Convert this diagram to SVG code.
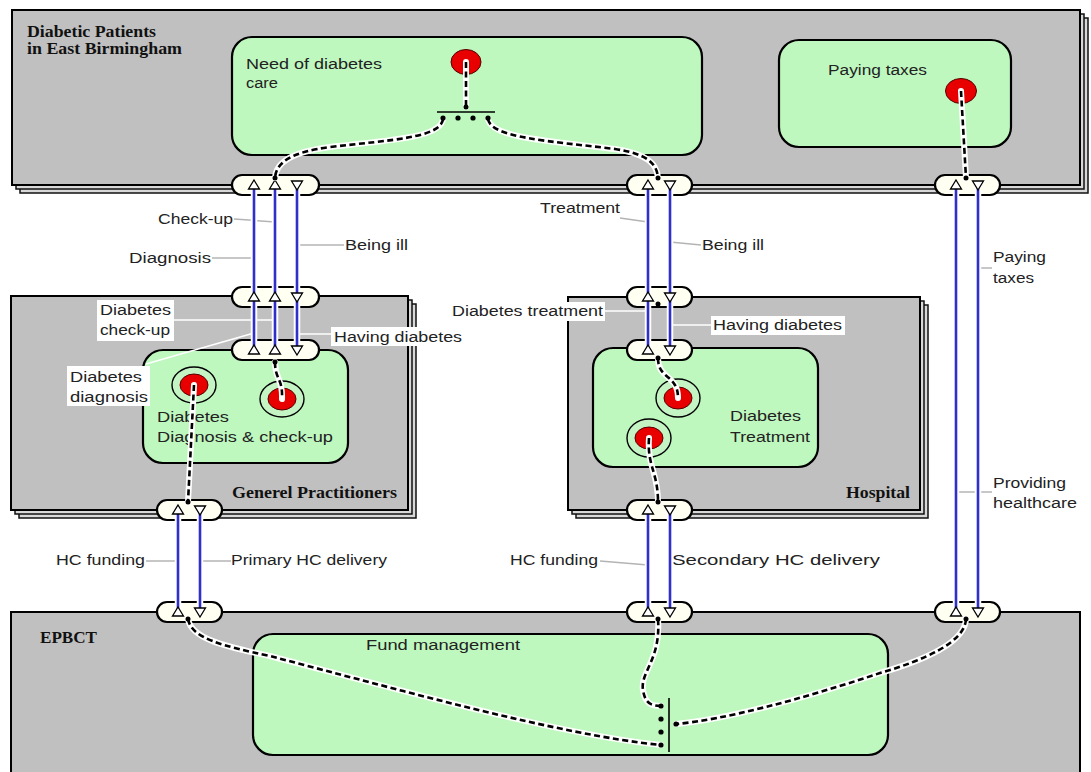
<svg xmlns="http://www.w3.org/2000/svg" xmlns:xlink="http://www.w3.org/1999/xlink" width="1091" height="772" viewBox="0 0 1091 772">
  <style>
    .sheet { fill: #c0c0c0; stroke: #000; stroke-width: 2; }
    .sheet-back { fill: #d8d8d8; stroke: #111; stroke-width: 1.5; }
    .activity { fill: #bff8bf; stroke: #000; stroke-width: 2.2; }
    .port { fill: #fffff2; stroke: #000; stroke-width: 2.2; }
    .title { font-family: "Liberation Serif", "Times New Roman", serif; font-weight: bold; font-size: 16px; fill: #111; }
    .lbl { font-family: "Liberation Sans", Arial, sans-serif; font-size: 14px; fill: #222; }
    .lbl-bg { fill: #ffffff; }
    .lead { stroke: #b4b4b4; stroke-width: 1.5; fill: none; }
    .lead-w { stroke: #ffffff; stroke-width: 1.5; fill: none; }
    .halo { stroke: #ffffff; stroke-width: 6.5; fill: none; }
    .flow { stroke: #3030c8; stroke-width: 2.6; fill: none; }
    .tri { fill: #ffffff; stroke: #000; stroke-width: 1.3; }
    .dash-under { stroke: #ffffff; stroke-width: 6; fill: none; stroke-linecap: round; }
    .dash { stroke: #000; stroke-width: 2.6; fill: none; stroke-dasharray: 6 3.5; }
    .dot { fill: #000; }
    .bar { stroke: #000; stroke-width: 1.6; }
    .ring { fill: #c4f4c4; stroke: #000; stroke-width: 1.4; }
    .red { fill: #e80000; stroke: #500; stroke-width: 1; }
  </style>
  <defs>
    <path id="tri-up" class="tri" d="M0,-5 L5.5,4 L-5.5,4 Z"/>
    <path id="tri-down" class="tri" d="M0,5 L5.5,-4 L-5.5,-4 Z"/>
  </defs>

  <rect width="1091" height="772" fill="#ffffff"/>

  <!-- Organisation: patients -->
  <g id="patients">
    <rect class="sheet-back" x="20" y="18" width="1068" height="175"/>
    <rect class="sheet-back" x="16" y="14" width="1068" height="175"/>
    <rect class="sheet" x="12" y="10" width="1068" height="175"/>
    <text class="title" x="27" y="37" textLength="129" lengthAdjust="spacingAndGlyphs">Diabetic Patients</text>
    <text class="title" x="27" y="54" textLength="155" lengthAdjust="spacingAndGlyphs">in East Birmingham</text>
  </g>

  <!-- Organisation: general practitioners -->
  <g id="gp">
    <rect class="sheet-back" x="19" y="304" width="397" height="214"/>
    <rect class="sheet-back" x="15" y="300" width="397" height="214"/>
    <rect class="sheet" x="11" y="296" width="397" height="214"/>
    <text class="title" x="232" y="498" textLength="165" lengthAdjust="spacingAndGlyphs">Generel Practitioners</text>
  </g>

  <!-- Organisation: hospital -->
  <g id="hospital">
    <rect class="sheet-back" x="576" y="305" width="352" height="213"/>
    <rect class="sheet-back" x="572" y="301" width="352" height="213"/>
    <rect class="sheet" x="568" y="297" width="352" height="213"/>
    <text class="title" x="846" y="498" textLength="64" lengthAdjust="spacingAndGlyphs">Hospital</text>
  </g>

  <!-- Organisation: EPBCT -->
  <g id="epbct">
    <rect class="sheet" x="11" y="612" width="1069" height="170"/>
    <text class="title" x="40" y="643" textLength="57" lengthAdjust="spacingAndGlyphs">EPBCT</text>
  </g>

  <!-- Activities -->
  <g id="need-of-care">
    <rect class="activity" x="232" y="37" width="470" height="118" rx="20"/>
    <text class="lbl" x="246" y="69" textLength="136" lengthAdjust="spacingAndGlyphs">Need of diabetes</text>
    <text class="lbl" x="246" y="88" textLength="32" lengthAdjust="spacingAndGlyphs">care</text>
    <ellipse class="red" cx="466" cy="62" rx="15" ry="12.5"/>
  </g>

  <g id="paying-taxes">
    <rect class="activity" x="779" y="40" width="232" height="107" rx="20"/>
    <text class="lbl" x="828" y="75" textLength="99" lengthAdjust="spacingAndGlyphs">Paying taxes</text>
    <ellipse class="red" cx="961" cy="91" rx="15.5" ry="12.5"/>
  </g>

  <g id="diagnosis-checkup">
    <rect class="activity" x="143" y="350" width="205" height="113" rx="20"/>
    <text class="lbl" x="157" y="422" textLength="72" lengthAdjust="spacingAndGlyphs">Diabetes</text>
    <text class="lbl" x="157" y="442" textLength="176" lengthAdjust="spacingAndGlyphs">Diagnosis &amp; check-up</text>
    <ellipse class="ring" cx="194" cy="385" rx="22" ry="18"/>
    <ellipse class="red" cx="194" cy="385" rx="14" ry="11"/>
    <ellipse class="ring" cx="282" cy="399" rx="22" ry="18"/>
    <ellipse class="red" cx="282" cy="399" rx="14" ry="11"/>
  </g>

  <g id="treatment">
    <rect class="activity" x="593" y="348" width="225" height="119" rx="20"/>
    <text class="lbl" x="730" y="421" textLength="71" lengthAdjust="spacingAndGlyphs">Diabetes</text>
    <text class="lbl" x="730" y="442" textLength="80" lengthAdjust="spacingAndGlyphs">Treatment</text>
    <ellipse class="ring" cx="678" cy="398" rx="22" ry="19"/>
    <ellipse class="red" cx="678" cy="398" rx="14" ry="11"/>
    <ellipse class="ring" cx="649" cy="438" rx="22" ry="19"/>
    <ellipse class="red" cx="649" cy="438" rx="14" ry="11"/>
  </g>

  <g id="fund-management">
    <rect class="activity" x="253" y="634" width="635" height="121" rx="20"/>
    <text class="lbl" x="366" y="650" textLength="154" lengthAdjust="spacingAndGlyphs">Fund management</text>
  </g>

  <!-- Ports on organisation and activity borders -->
  <g id="ports">
    <rect class="port" x="232" y="175" width="87" height="20" rx="10"/>
    <rect class="port" x="232" y="287" width="87" height="20" rx="10"/>
    <rect class="port" x="232" y="340" width="87" height="20" rx="10"/>
    <rect class="port" x="157" y="500" width="65" height="20" rx="10"/>
    <rect class="port" x="157" y="602" width="65" height="20" rx="10"/>
    <rect class="port" x="627" y="175" width="65" height="20" rx="10"/>
    <rect class="port" x="627" y="287" width="65" height="20" rx="10"/>
    <rect class="port" x="627" y="340" width="65" height="20" rx="10"/>
    <rect class="port" x="627" y="500" width="65" height="20" rx="10"/>
    <rect class="port" x="627" y="602" width="65" height="20" rx="10"/>
    <rect class="port" x="935" y="175" width="65" height="20" rx="10"/>
    <rect class="port" x="935" y="602" width="65" height="20" rx="10"/>
  </g>

  <!-- Flow labels -->
  <g id="labels">
    <line class="lead" x1="234" y1="219" x2="275" y2="222"/>
    <text class="lbl" x="158" y="224" textLength="75" lengthAdjust="spacingAndGlyphs">Check-up</text>
    <line class="lead" x1="212" y1="258" x2="254" y2="258"/>
    <text class="lbl" x="129" y="263" textLength="82" lengthAdjust="spacingAndGlyphs">Diagnosis</text>
    <line class="lead" x1="297" y1="245" x2="344" y2="245"/>
    <text class="lbl" x="345" y="250" textLength="63" lengthAdjust="spacingAndGlyphs">Being ill</text>

    <line class="lead-w" x1="172" y1="320" x2="275" y2="320"/>
    <rect class="lbl-bg" x="97" y="300" width="77" height="41"/>
    <text class="lbl" x="100" y="315" textLength="71" lengthAdjust="spacingAndGlyphs">Diabetes</text>
    <text class="lbl" x="100" y="335" textLength="70" lengthAdjust="spacingAndGlyphs">check-up</text>
    <line class="lead-w" x1="297" y1="334" x2="333" y2="334"/>
    <rect class="lbl-bg" x="331" y="327" width="134" height="19"/>
    <text class="lbl" x="334" y="342" textLength="128" lengthAdjust="spacingAndGlyphs">Having diabetes</text>
    <line class="lead-w" x1="146" y1="364" x2="254" y2="333"/>
    <rect class="lbl-bg" x="67" y="366" width="83" height="40"/>
    <text class="lbl" x="70" y="382" textLength="72" lengthAdjust="spacingAndGlyphs">Diabetes</text>
    <text class="lbl" x="70" y="402" textLength="78" lengthAdjust="spacingAndGlyphs">diagnosis</text>

    <line class="lead" x1="620" y1="218" x2="648" y2="222"/>
    <text class="lbl" x="540" y="213" textLength="80" lengthAdjust="spacingAndGlyphs">Treatment</text>
    <line class="lead" x1="670" y1="242" x2="701" y2="245"/>
    <text class="lbl" x="702" y="250" textLength="62" lengthAdjust="spacingAndGlyphs">Being ill</text>
    <line class="lead-w" x1="603" y1="311" x2="648" y2="311"/>
    <rect class="lbl-bg" x="449" y="302" width="156" height="19"/>
    <text class="lbl" x="452" y="316" textLength="151" lengthAdjust="spacingAndGlyphs">Diabetes treatment</text>
    <line class="lead-w" x1="670" y1="325" x2="713" y2="325"/>
    <rect class="lbl-bg" x="711" y="316" width="134" height="19"/>
    <text class="lbl" x="713" y="330" textLength="129" lengthAdjust="spacingAndGlyphs">Having diabetes</text>

    <line class="lead" x1="978" y1="268" x2="992" y2="268"/>
    <text class="lbl" x="993" y="262" textLength="53" lengthAdjust="spacingAndGlyphs">Paying</text>
    <text class="lbl" x="993" y="283" textLength="41" lengthAdjust="spacingAndGlyphs">taxes</text>
    <line class="lead" x1="956" y1="492" x2="992" y2="492"/>
    <text class="lbl" x="993" y="488" textLength="73" lengthAdjust="spacingAndGlyphs">Providing</text>
    <text class="lbl" x="993" y="508" textLength="84" lengthAdjust="spacingAndGlyphs">healthcare</text>

    <line class="lead" x1="146" y1="561" x2="178" y2="561"/>
    <text class="lbl" x="56" y="565" textLength="89" lengthAdjust="spacingAndGlyphs">HC funding</text>
    <line class="lead" x1="200" y1="561" x2="231" y2="561"/>
    <text class="lbl" x="231" y="565" textLength="156" lengthAdjust="spacingAndGlyphs">Primary HC delivery</text>
    <line class="lead" x1="600" y1="561" x2="648" y2="565"/>
    <text class="lbl" x="510" y="565" textLength="88" lengthAdjust="spacingAndGlyphs">HC funding</text>
    <line class="lead" x1="670" y1="555" x2="672" y2="561"/>
    <text class="lbl" x="672" y="565" textLength="208" lengthAdjust="spacingAndGlyphs">Secondary HC delivery</text>
  </g>

  <g id="connectors">
    <!-- exchange flows between organisations and activities -->
    <g id="flows">
      <path class="halo" d="M254,185V350M275,185V350M297,185V350M178,510V612M200,510V612M648,185V350M670,185V350M648,510V612M670,510V612M956,185V612M978,185V612"/>
      <path class="flow" d="M254,185V350M275,185V350M297,185V350M178,510V612M200,510V612M648,185V350M670,185V350M648,510V612M670,510V612M956,185V612M978,185V612"/>
      <use xlink:href="#tri-up" x="254" y="185"/><use xlink:href="#tri-up" x="275" y="185"/><use xlink:href="#tri-down" x="297" y="185"/>
      <use xlink:href="#tri-up" x="254" y="297"/><use xlink:href="#tri-up" x="275" y="297"/><use xlink:href="#tri-down" x="297" y="297"/>
      <use xlink:href="#tri-up" x="254" y="350"/><use xlink:href="#tri-up" x="275" y="350"/><use xlink:href="#tri-down" x="297" y="350"/>
      <use xlink:href="#tri-up" x="178" y="510"/><use xlink:href="#tri-down" x="200" y="510"/>
      <use xlink:href="#tri-up" x="178" y="612"/><use xlink:href="#tri-down" x="200" y="612"/>
      <use xlink:href="#tri-up" x="648" y="185"/><use xlink:href="#tri-down" x="670" y="185"/>
      <use xlink:href="#tri-up" x="648" y="297"/><use xlink:href="#tri-down" x="670" y="297"/>
      <use xlink:href="#tri-up" x="648" y="350"/><use xlink:href="#tri-down" x="670" y="350"/>
      <use xlink:href="#tri-up" x="648" y="510"/><use xlink:href="#tri-down" x="670" y="510"/>
      <use xlink:href="#tri-up" x="648" y="612"/><use xlink:href="#tri-down" x="670" y="612"/>
      <use xlink:href="#tri-up" x="956" y="185"/><use xlink:href="#tri-down" x="978" y="185"/>
      <use xlink:href="#tri-up" x="956" y="612"/><use xlink:href="#tri-down" x="978" y="612"/>
    </g>

    <!-- internal links from ports to activity elements -->
    <g id="links">
      <path class="dash-under" d="M466,62V107 M443,119 C441,138 390,140 330,147 C292,152 276,162 275,178 M488,119 C491,138 550,141 615,149 C648,154 657,164 658,178 M961,91 L966,178 M275,362 C275,380 283,378 282,399 M194,385 L188,502 M658,358 C658,380 678,374 678,398 M649,438 C647,466 658,472 658,502 M188,619 C191,638 222,646 270,656 C400,690 560,735 661,745 M658,619 C661,660 640,672 643,690 C645,704 652,706 661,706 M966,619 C965,642 925,660 880,673 C800,700 722,720 676,724"/>
      <path class="dash" d="M466,62V107 M443,119 C441,138 390,140 330,147 C292,152 276,162 275,178 M488,119 C491,138 550,141 615,149 C648,154 657,164 658,178 M961,91 L966,178 M275,362 C275,380 283,378 282,399 M194,385 L188,502 M658,358 C658,380 678,374 678,398 M649,438 C647,466 658,472 658,502 M188,619 C191,638 222,646 270,656 C400,690 560,735 661,745 M658,619 C661,660 640,672 643,690 C645,704 652,706 661,706 M966,619 C965,642 925,660 880,673 C800,700 722,720 676,724"/>
      <line class="bar" x1="437" y1="112" x2="495" y2="112"/>
      <line class="bar" x1="669" y1="698" x2="669" y2="752"/>
      <circle class="dot" cx="466" cy="107" r="2.5"/>
      <circle class="dot" cx="443" cy="118" r="2.6"/><circle class="dot" cx="458" cy="118" r="2.6"/>
      <circle class="dot" cx="473" cy="118" r="2.6"/><circle class="dot" cx="488" cy="118" r="2.6"/>
      <circle class="dot" cx="275" cy="178" r="2.5"/>
      <circle class="dot" cx="658" cy="178" r="2.5"/>
      <circle class="dot" cx="966" cy="178" r="2.5"/>
      <circle class="dot" cx="275" cy="362" r="2.5"/>
      <circle class="dot" cx="188" cy="502" r="2.5"/>
      <circle class="dot" cx="658" cy="304" r="2.5"/>
      <circle class="dot" cx="658" cy="358" r="2.5"/>
      <circle class="dot" cx="658" cy="502" r="2.5"/>
      <circle class="dot" cx="188" cy="619" r="2.5"/>
      <circle class="dot" cx="658" cy="619" r="2.5"/>
      <circle class="dot" cx="966" cy="619" r="2.5"/>
      <circle class="dot" cx="661" cy="706" r="2.6"/><circle class="dot" cx="661" cy="719" r="2.6"/>
      <circle class="dot" cx="661" cy="732" r="2.6"/><circle class="dot" cx="661" cy="745" r="2.6"/>
      <circle class="dot" cx="676" cy="724" r="2.6"/>
    </g>
  </g>
</svg>
